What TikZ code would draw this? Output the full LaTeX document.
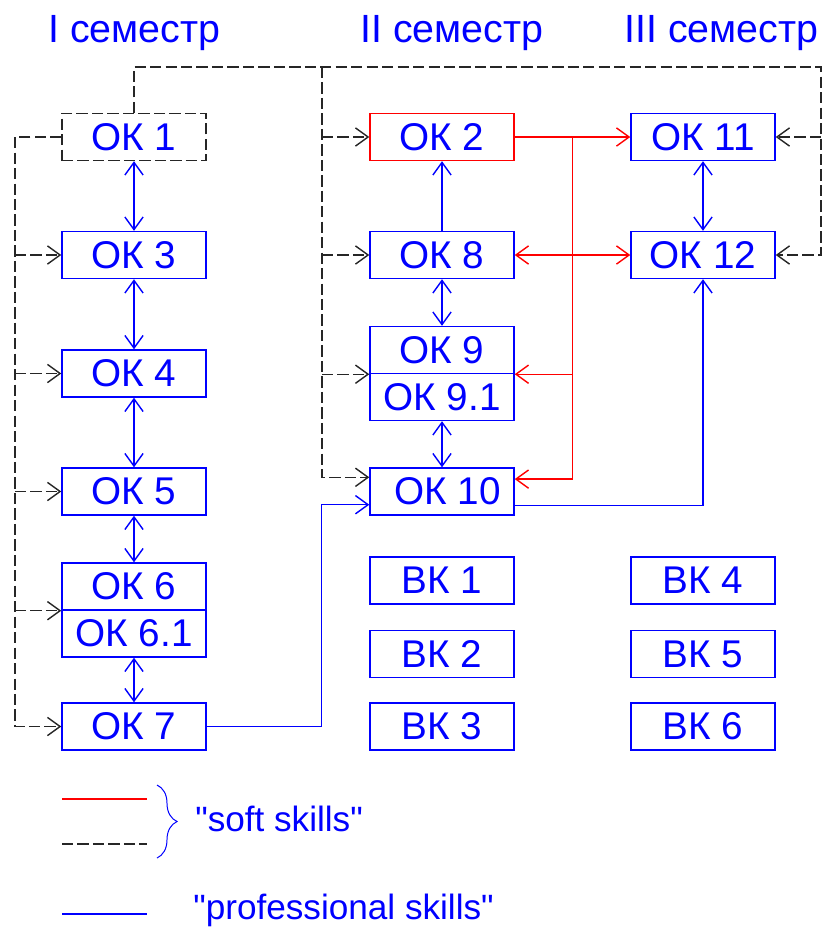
\documentclass[tikz,border=0pt]{standalone}
\usepackage{fontspec}
\setmainfont{Liberation Sans}
\usetikzlibrary{arrows.meta,calc,decorations.pathreplacing}

\begin{document}
\begin{tikzpicture}[x=0.025cm,y=-0.025cm,
  >={Straight Barb[length=9pt,width=13pt]},
  ok/.style={draw=blue,line width=1pt,text=blue,minimum width=3.6cm,
    minimum height=1.175cm,inner sep=0pt,font=\fontsize{27.5}{30}\selectfont},
  sem/.style={text=blue,inner sep=0pt,anchor=base west,font=\fontsize{28}{32}\selectfont},
  legend/.style={text=blue,inner sep=0pt,anchor=base west,font=\fontsize{25}{30}\selectfont},
  pro/.style={blue,line width=1pt},
  soft/.style={red,line width=1pt},
  hard/.style={black!85,line width=1pt,dash pattern=on 8pt off 3pt}]
  \useasboundingbox (0,0) rectangle (822,928);
  % semesters
  \node[sem] (sem1) at (48,42) {I семестр};
  \node[sem] (sem2) at (360,42) {II семестр};
  \node[sem] (sem3) at (624,42) {III семестр};
  % first column
  \node[ok,draw=black!85,dash pattern=on 8pt off 3pt] (ok1) at (134,137) {ОК 1};
  \node[ok] (ok3) at (134,255) {ОК 3};
  \node[ok] (ok4) at (134,373.5) {ОК 4};
  \node[ok] (ok5) at (134,491.5) {ОК 5};
  \node[ok] (ok6) at (134,586.5) {ОК 6};
  \node[ok] (ok61) at (134,633.5) {ОК 6.1};
  \node[ok] (ok7) at (134,726.5) {ОК 7};
  % second column
  \node[ok,draw=red] (ok2) at (442,137) {ОК 2};
  \node[ok] (ok8) at (442,255) {ОК 8};
  \node[ok] (ok9) at (442,350) {ОК 9};
  \node[ok] (ok91) at (442,397) {ОК 9.1};
  \node[ok] (ok10) at (442,491.5) {\ ОК 10};
  \node[ok] (vk1) at (442,580.5) {ВК 1};
  \node[ok] (vk2) at (442,654) {ВК 2};
  \node[ok] (vk3) at (442,726.5) {ВК 3};
  % third column
  \node[ok] (ok11) at (703,137) {ОК 11};
  \node[ok] (ok12) at (703,255) {ОК 12};
  \node[ok] (vk4) at (703,580.5) {ВК 4};
  \node[ok] (vk5) at (703,654) {ВК 5};
  \node[ok] (vk6) at (703,726.5) {ВК 6};

  % professional skills
  \draw[pro,<->] (ok1) -- (ok3);
  \draw[pro,<->] (ok3) -- (ok4);
  \draw[pro,<->] (ok4) -- (ok5);
  \draw[pro,<->] (ok5) -- (ok6);
  \draw[pro,<->] (ok61) -- (ok7);
  \draw[pro,->] (ok8) -- (ok2);
  \draw[pro,<->] (ok8) -- (ok9);
  \draw[pro,<->] (ok91) -- (ok10);
  \draw[pro,<->] (ok11) -- (ok12);
  \draw[pro,->] (ok7) -| ([xshift=-1.2cm,yshift=0.275cm]ok10.south west)
    -- ([yshift=0.275cm]ok10.south west);
  \draw[pro,->] ([yshift=0.25cm]ok10.south east) -| (ok12);

  % soft skills, red
  \coordinate (rx) at ($(ok2.east)!0.5!(ok11.west)$);
  \draw[soft,->] (ok2) -- (ok11);
  \draw[soft,<->] (ok8) -- (ok12);
  \draw[soft,->] (rx) |- ([yshift=0.31cm]ok10.east);
  \draw[soft,->] (rx |- ok9.south) -- (ok9.south east);

  % soft skills, dashed
  \coordinate (hub) at (322,67);
  \coordinate (rt) at (821,67);
  \coordinate (lb) at (15,726.5);
  \draw[hard,->] (ok1.north) |- (rt) |- (ok12);
  \draw[hard,->] (rt |- ok11) -- (ok11);
  \draw[hard,->] (hub) |- ([yshift=-0.25cm]ok10.north west);
  \draw[hard,->] (hub |- ok2) -- (ok2);
  \draw[hard,->] (hub |- ok8) -- (ok8);
  \draw[hard,->] (hub |- ok9.south) -- (ok9.south west);
  \draw[hard,->] (ok1) -| (lb) -- (ok7);
  \foreach \k in {ok3,ok4,ok5}
    \draw[hard,->] (lb |- \k) -- (\k);
  \draw[hard,->] (lb |- ok6.south) -- (ok6.south west);

  % legend
  \coordinate (lg1) at (62,799);
  \coordinate (lg2) at (62,844);
  \coordinate (lg3) at (62,914);
  \draw[soft] (lg1) -- ++(85,0);
  \draw[hard] (lg2) -- ++(85,0);
  \draw[pro] (lg3) -- ++(85,0);
  \draw[blue,line width=0.7pt,decorate,decoration={brace,amplitude=0.5cm}]
    (157,785) -- (157,858);
  \node[legend] (softtxt) at (195,831) {\textquotedbl soft skills\textquotedbl};
  \node[legend] (protxt) at (193,919) {\textquotedbl professional skills\textquotedbl};
\end{tikzpicture}
\end{document}
